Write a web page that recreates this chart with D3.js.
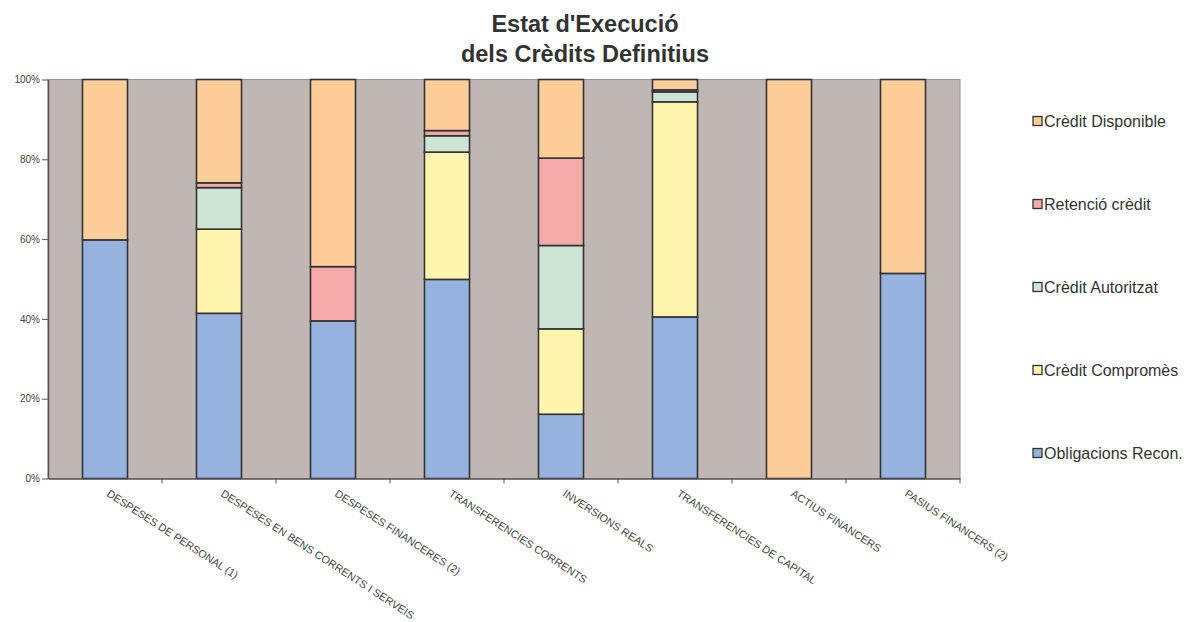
<!DOCTYPE html>
<html><head><meta charset="utf-8">
<script src="https://cdn.jsdelivr.net/npm/d3@7"></script>
<style>body{margin:0;background:#fff}svg{display:block}</style>
</head><body>
<svg id="c" width="1186" height="622"></svg>
<script>
const categories = ["DESPESES DE PERSONAL (1)","DESPESES EN BENS CORRENTS I SERVEIS","DESPESES FINANCERES (2)","TRANSFERENCIES CORRENTS","INVERSIONS REALS","TRANSFERENCIES DE CAPITAL","ACTIUS FINANCERS","PASIUS FINANCERS (2)"];
const seriesNames = ["Obligacions Recon.","Crèdit Compromès","Crèdit Autoritzat","Retenció crèdit","Crèdit Disponible"];
const obligacions = [59.8, 41.4, 39.5, 49.9, 16.1, 40.5, 0, 51.4];
const compromes   = [0, 21.1, 0, 31.9, 21.4, 53.9, 0, 0];
const autoritzat  = [0, 10.4, 0, 4.1, 20.9, 2.5, 0, 0];
const retencio    = [0, 1.2, 13.6, 1.3, 21.9, 0.5, 0, 0];
const disponible  = [40.2, 25.9, 46.9, 12.8, 19.7, 2.6, 100, 48.6];
const colors = ["#95b3de","#fff5ad","#cce5d5","#f5a9a9","#fdcd9a"];
const yTicks = [0, 20, 40, 60, 80, 100];
const title = ["Estat d'Execució","dels Crèdits Definitius"];

const svg = d3.select("#c");
const M = {l:48, r:960, t:79.5, b:478.5};
const x = d3.scaleBand().domain(categories).range([M.l, M.r]).padding(0);
const y = d3.scaleLinear().domain([0,100]).range([M.b, M.t]);

const table = categories.map((c,i)=>({cat:c, s0:obligacions[i], s1:compromes[i], s2:autoritzat[i], s3:retencio[i], s4:disponible[i]}));
const stack = d3.stack().keys(["s0","s1","s2","s3","s4"]);
const layers = stack(table);

svg.append("rect").attr("x",M.l).attr("y",M.t).attr("width",M.r-M.l).attr("height",M.b-M.t)
  .attr("fill","#c0b7b5").attr("stroke","#9a9291").attr("stroke-width",1);

const bw = x.bandwidth()*0.395;
const off = (x.bandwidth()-bw)/2;
layers.forEach((layer,k)=>{
  svg.append("g").selectAll("rect").data(layer.filter(d=>d[1]-d[0]>0)).join("rect")
    .attr("x",d=>x(d.data.cat)+off).attr("width",bw)
    .attr("y",d=>y(d[1])).attr("height",d=>y(d[0])-y(d[1]))
    .attr("fill",colors[k]).attr("stroke","#333").attr("stroke-width",1.6);
});

// y axis
const ya = svg.append("g").attr("transform",`translate(${M.l},0)`)
  .call(d3.axisLeft(y).tickValues(yTicks).tickFormat(d=>d+"%").tickSize(6).tickSizeOuter(0));
ya.select(".domain").attr("stroke","#555").attr("stroke-width",1.5);
ya.selectAll(".tick line").attr("stroke","#555");
ya.selectAll("text").attr("font-family","Liberation Sans, Arial, sans-serif").attr("font-size",10).attr("fill","#444").attr("x",-8);

// x axis
const xa = svg.append("g").attr("transform",`translate(0,${M.b})`)
  .call(d3.axisBottom(x).tickSize(0).tickSizeOuter(0).tickFormat(""));
xa.select(".domain").attr("stroke","#555").attr("stroke-width",1.5);
svg.append("g").selectAll("line").data(categories).join("line")
  .attr("x1",d=>x(d)+x.bandwidth()).attr("x2",d=>x(d)+x.bandwidth())
  .attr("y1",M.b).attr("y2",M.b+5).attr("stroke","#555");
svg.append("g").selectAll("text").data(categories).join("text")
  .attr("transform",d=>`translate(${x(d)+x.bandwidth()/2+1},${M.b+17}) rotate(33)`)
  .attr("font-family","Liberation Sans, Arial, sans-serif").attr("font-size",10.8).attr("fill","#444")
  .text(d=>d);

// title
svg.append("g").selectAll("text").data(title).join("text")
  .attr("x",585).attr("y",(d,i)=>32+i*30).attr("text-anchor","middle")
  .attr("font-family","Liberation Sans, Arial, sans-serif").attr("font-weight","bold").attr("font-size",23.5).attr("fill","#333")
  .text(d=>d);

// legend
const legOrder = [4,3,2,1,0];
const lg = svg.append("g").selectAll("g").data(legOrder).join("g")
  .attr("transform",(d,i)=>`translate(1033,${121+i*83})`);
lg.append("rect").attr("x",0).attr("y",-4.5).attr("width",9).attr("height",9)
  .attr("fill",d=>colors[d]).attr("stroke","#333").attr("stroke-width",1.3);
lg.append("text").attr("x",11).attr("y",5.5).attr("font-family","Liberation Sans, Arial, sans-serif")
  .attr("font-size",16).attr("fill","#333").text(d=>seriesNames[d]);
</script>
</body></html>
